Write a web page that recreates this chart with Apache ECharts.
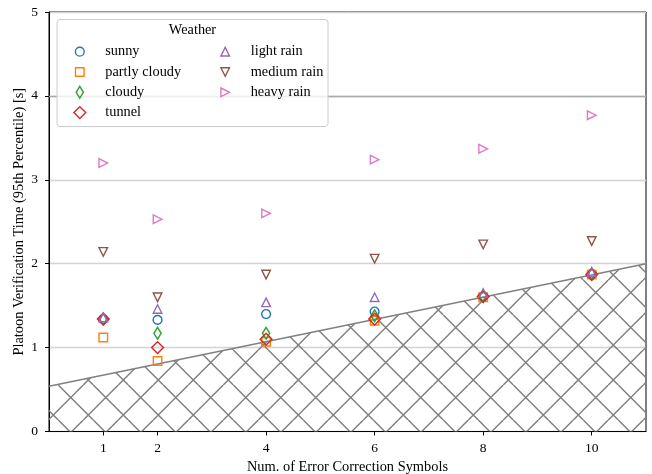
<!DOCTYPE html>
<html>
<head>
<meta charset="utf-8">
<script src="https://cdn.jsdelivr.net/npm/echarts@6/dist/echarts.min.js"></script>
<style>html,body{margin:0;padding:0;background:#fff}#c{width:652px;height:474px}</style>
</head>
<body>
<div id="c"></div>
<script>
// ---- data ----
const xValues = [1, 2, 4, 6, 8, 10];
const xTicks = [1, 2, 4, 6, 8, 10];
const yTicks = [0, 1, 2, 3, 4, 5];
const seriesNames = ['sunny', 'partly cloudy', 'cloudy', 'tunnel', 'light rain', 'medium rain', 'heavy rain'];
const sunny        = [1.34, 1.33, 1.40, 1.43, 1.61, 1.88];
const partlyCloudy = [1.12, 0.84, 1.07, 1.32, 1.60, 1.87];
const cloudy       = [1.34, 1.17, 1.17, 1.38, 1.61, 1.88];
const tunnel       = [1.34, 1.00, 1.10, 1.34, 1.61, 1.87];
const lightRain    = [1.36, 1.46, 1.54, 1.60, 1.65, 1.90];
const mediumRain   = [2.14, 1.60, 1.87, 2.06, 2.23, 2.27];
const heavyRain    = [3.20, 2.53, 2.60, 3.24, 3.37, 3.77];
const hatchBoundary = [[0, 0.54], [11, 2.0]];
const referenceLine = 4;
const xAxisName = 'Num. of Error Correction Symbols';
const yAxisName = 'Platoon Verification Time (95th Percentile) [s]';
const legendTitle = 'Weather';

// ---- styles ----
const FONT = 'Liberation Serif';
const colors = ['#1f77b4', '#ff7f0e', '#2ca02c', '#d62728', '#9467bd', '#8c564b', '#e377c2'];
const A = 'M0,0 M12,12 ';
const symbols = [
  'path://' + A + 'M1.6,6 A4.4,4.4 0 1,1 10.4,6 A4.4,4.4 0 1,1 1.6,6 Z',
  'path://' + A + 'M1.75,1.75 L10.25,1.75 L10.25,10.25 L1.75,10.25 Z',
  'path://' + A + 'M6,0.1 L9.6,6 L6,11.9 L2.4,6 Z',
  'path://' + A + 'M6,0.1 L11.9,6 L6,11.9 L0.1,6 Z',
  'path://' + A + 'M6,1.7 L10.3,10.3 L1.7,10.3 Z',
  'path://' + A + 'M1.7,1.7 L10.3,1.7 L6,10.3 Z',
  'path://' + A + 'M1.7,1.7 L10.3,6 L1.7,10.3 Z'
];
const allValues = [sunny, partlyCloudy, cloudy, tunnel, lightRain, mediumRain, heavyRain];

// hatch pattern tile
function makeHatch() {
  const P = 35, c = 23.3, d = 13.3;
  const cv = document.createElement('canvas');
  cv.width = P; cv.height = P;
  const ctx = cv.getContext('2d');
  ctx.strokeStyle = '#808080';
  ctx.lineWidth = 1.5;
  ctx.beginPath();
  for (let k = -2; k <= 2; k++) {
    ctx.moveTo(c + P * k, 0); ctx.lineTo(c + P * k + P, P);
    ctx.moveTo(d + P * k, 0); ctx.lineTo(d + P * k - P, P);
  }
  ctx.stroke();
  return cv;
}

const chart = echarts.init(document.getElementById('c'), null, {renderer: 'canvas'});

const series = [{
  type: 'line',
  name: 'hatch',
  data: hatchBoundary,
  symbol: 'none',
  silent: true,
  z: 1,
  lineStyle: {color: '#808080', width: 1.4},
  areaStyle: {color: {image: makeHatch(), repeat: 'repeat'}, opacity: 1, origin: 'start'},
  markLine: {
    silent: true, symbol: 'none', label: {show: false},
    lineStyle: {color: '#aaaaaa', width: 1.3, type: 'solid'},
    data: [{yAxis: referenceLine}]
  }
}];
seriesNames.forEach((n, i) => {
  series.push({
    type: 'scatter',
    name: n,
    data: xValues.map((x, j) => [x, allValues[i][j]]),
    symbol: symbols[i],
    symbolSize: 12,
    z: 3 + i * 0.01,
    itemStyle: {color: 'none', borderColor: colors[i], borderWidth: 1.4, opacity: 1},
    emphasis: {disabled: true}
  });
});

const legendCommon = {
  orient: 'vertical',
  top: 41.7,
  padding: 0,
  itemGap: 0.3,
  itemWidth: 12,
  itemHeight: 12,
  z: 20,
  selectedMode: false,
  itemStyle: {borderWidth: 1.4, opacity: 1},
  textStyle: {fontFamily: FONT, fontSize: 14.3, color: '#000', lineHeight: 20, padding: [0, 0, 0, 14.5]}
};

chart.setOption({
  animation: false,
  grid: {left: 49, right: 6, top: 12, bottom: 42.5, show: true, borderColor: '#000', borderWidth: 1, outerBoundsMode: 'none', containLabel: false},
  xAxis: {
    type: 'value', min: 0, max: 11,
    name: xAxisName, nameLocation: 'middle', nameGap: 29, nameMoveOverlap: false,
    nameTextStyle: {fontFamily: FONT, fontSize: 14.4, color: '#000'},
    axisLine: {show: true, lineStyle: {color: '#000', width: 1}},
    axisTick: {show: true, length: 4, lineStyle: {color: '#000'}, customValues: xTicks},
    axisLabel: {fontFamily: FONT, fontSize: 13.5, color: '#000', margin: 10, customValues: xTicks},
    splitLine: {show: false}
  },
  yAxis: {
    type: 'value', min: 0, max: 5, interval: 1,
    name: yAxisName, nameLocation: 'middle', nameGap: 23, nameMoveOverlap: false,
    nameTextStyle: {fontFamily: FONT, fontSize: 14.4, color: '#000'},
    axisLine: {show: true, lineStyle: {color: '#000', width: 1}},
    axisTick: {show: true, length: 4, lineStyle: {color: '#000'}, customValues: yTicks},
    axisLabel: {fontFamily: FONT, fontSize: 13.5, color: '#000', margin: 11, customValues: yTicks},
    splitLine: {show: true, lineStyle: {color: '#d3d3d3', width: 1.3}}
  },
  legend: [
    Object.assign({}, legendCommon, {left: 71.3, data: seriesNames.slice(0, 4)}),
    Object.assign({}, legendCommon, {left: 216.7, data: seriesNames.slice(4)})
  ],
  graphic: [
    {type: 'rect', z: 10, shape: {x: 57, y: 19.5, width: 271, height: 107, r: 3},
     style: {fill: 'rgba(255,255,255,0.8)', stroke: '#cccccc', lineWidth: 1}},
    {type: 'text', z: 21, x: 192.5, y: 30.7,
     style: {text: legendTitle, fontFamily: FONT, fontSize: 14.3, fill: '#000', align: 'center', verticalAlign: 'middle'}}
  ],
  series: series
});
</script>
</body>
</html>
